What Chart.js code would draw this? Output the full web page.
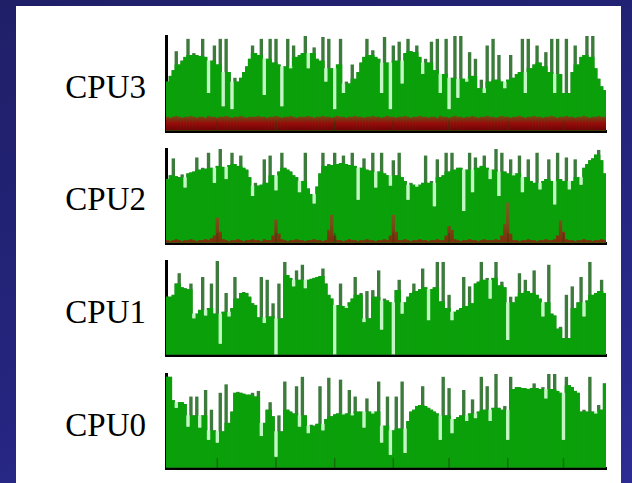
<!DOCTYPE html>
<html><head><meta charset="utf-8">
<script src="https://cdn.jsdelivr.net/npm/chart.js@4.4.1/dist/chart.umd.min.js"></script>
<style>
html,body{margin:0;padding:0;}
body{width:632px;height:483px;overflow:hidden;position:relative;background:linear-gradient(160deg,#1f1f68 0%,#24247c 50%,#2c2c94 100%);}
#panel{position:absolute;left:16px;top:6px;width:605px;height:477px;background:#fff;}
.lbl{position:absolute;left:0;width:146px;text-align:right;font-family:"Liberation Serif",serif;font-size:33px;line-height:34px;height:34px;color:#000;}
canvas{position:absolute;}
</style></head>
<body>
<div id="panel"></div>
<div class="lbl" style="top:70px">CPU3</div>
<div class="lbl" style="top:182px">CPU2</div>
<div class="lbl" style="top:295px">CPU1</div>
<div class="lbl" style="top:408px">CPU0</div>
<canvas id="c3" width="454" height="102" style="left:158px;top:33px"></canvas>
<canvas id="c2" width="454" height="101" style="left:158px;top:146px"></canvas>
<canvas id="c1" width="454" height="101" style="left:158px;top:258px"></canvas>
<canvas id="c0" width="454" height="101" style="left:158px;top:371px"></canvas>
<script>
// ---- data (percent CPU per sample) ----
const tickIdx = [17, 37, 57, 77, 96, 116, 135];

const cpu3Total = [52,58,64,84,70,74,78,97,80,82, 80,79,97,78,40,74,90,70,97,26,
 97,62,23,56,52,56,62,68,76,90, 82,80,97,38,76,97,72,97,70,26,
 68,97,66,90,78,80,82,100,66,82, 88,76,74,99,52,97,66,23,70,97,
 40,52,50,70,55,62,72,78,97,80, 85,78,76,40,99,72,23,90,74,94,
 50,82,97,84,83,90,78,60,76,72, 94,64,97,40,60,97,23,56,100,35,
 100,55,52,83,58,76,45,54,40,90, 52,97,54,80,52,45,54,80,56,60,
 62,97,40,97,66,70,90,72,68,83, 62,97,40,97,60,40,97,40,62,90,
 70,78,80,100,78,100,66,55,47,43];
const cpu3Kernel = [15,14,15,16,15,14,15,15,16,15, 14,15,15,14,16,15,15,14,15,15,
 16,15,14,15,15,16,15,14,15,15, 15,16,15,15,14,15,15,16,15,14,
 15,15,16,15,14,15,15,15,16,15, 14,15,15,16,15,15,14,15,16,15,
 15,14,15,15,16,15,15,14,15,15, 16,15,15,14,15,16,15,15,14,15,
 15,16,15,14,15,15,16,15,15,14, 15,15,14,16,15,15,14,15,16,15,
 15,14,15,15,16,15,14,15,15,16, 15,15,14,15,16,15,15,14,15,15,
 16,15,14,15,15,16,15,15,14,15, 15,16,15,14,15,15,16,15,15,14,
 15,15,16,15,14,15,15,16,15,15];

const cpu2Total = [68,72,90,71,70,73,59,74,75,76, 91,78,80,79,96,80,64,82,100,81,
 68,83,96,84,82,93,80,78,70,50, 64,61,62,89,64,93,72,56,76,96,
 80,78,76,72,70,54,66,96,58,52, 42,60,74,96,82,84,83,96,84,85,
 93,84,83,96,82,46,80,90,78,77, 96,59,76,96,74,72,61,88,72,96,
 70,66,46,64,62,60,62,64,93,64, 66,39,89,70,72,96,76,96,78,80,
 80,34,78,96,54,91,80,82,93,80, 68,78,100,50,96,76,74,89,72,74,
 93,54,70,89,66,64,96,57,66,68, 89,66,41,96,68,66,91,57,66,89,
 70,62,80,84,88,90,94,99,88,74];
const cpu2Kernel = [3,2,3,4,3,2,3,3,4,3, 2,3,3,4,3,5,8,27,12,4,
 3,2,3,3,4,3,2,3,3,4, 3,3,2,4,3,3,8,25,10,4,
 3,2,3,3,4,3,3,2,3,3, 4,3,3,2,3,14,30,8,3,3,
 2,3,4,3,3,2,3,3,4,3, 3,2,3,3,4,3,8,30,12,3,
 3,4,3,2,3,3,4,3,3,2, 3,3,4,3,3,8,18,14,4,3,
 2,3,3,4,3,3,2,3,4,3, 3,3,4,3,8,20,43,10,3,3,
 2,3,3,4,3,3,2,3,3,4, 3,3,4,8,24,12,4,3,3,2,
 3,3,4,3,3,2,3,3,4,3];

const cpu1Total = [62,62,64,76,87,72,71,70,76,39, 44,48,83,42,50,76,44,100,12,46,
 66,41,50,83,60,66,67,66,62,55, 53,40,83,34,80,41,55,0,76,39,
 99,85,82,73,90,80,96,71,80,81, 82,83,84,92,76,64,60,0,53,76,
 52,50,56,60,83,64,66,35,68,39, 69,62,90,27,60,58,56,0,69,80,
 44,56,62,66,76,68,70,92,72,37, 70,72,99,57,99,50,64,37,46,48,
 50,83,52,73,55,76,78,99,80,82, 60,82,99,74,78,72,16,62,56,62,
 87,66,80,68,66,90,64,60,41,56, 96,44,42,28,30,18,64,18,73,50,
 56,83,41,58,99,64,66,68,80,66];

const cpu0Total = [97,97,72,64,70,70,68,44,76,56, 76,43,56,83,30,62,40,27,80,39,
 89,48,60,80,81,80,79,78,78,80, 76,82,34,48,62,70,55,12,56,39,
 92,62,60,58,87,44,97,56,37,46, 45,47,87,40,52,96,55,57,58,94,
 57,58,83,56,76,60,60,43,74,60, 58,60,92,27,45,76,14,40,76,42,
 92,16,50,60,62,66,67,87,66,64, 62,60,58,30,97,56,85,37,52,54,
 56,83,50,58,73,53,60,97,62,87, 50,64,100,64,62,66,30,97,84,86,
 86,85,85,84,85,90,85,84,86,74, 100,84,100,82,80,30,97,88,86,82,
 80,60,62,60,97,60,58,67,62,90];

const labels = cpu3Total.map((_, i) => String(i));

// ---- styles ----
const GREEN = '#0aa00a', SPIKE = '#3c7b3c', DIP = '#c2f6c2';

const tickMarks = {
  id: 'tickMarks',
  afterDatasetsDraw(chart, args, opts) {
    if (!opts.show) return;
    const xs = chart.scales.x, a = chart.chartArea, ctx = chart.ctx;
    ctx.save();
    ctx.strokeStyle = opts.color; ctx.lineWidth = 1.5;
    tickIdx.forEach(i => {
      const px = xs.getPixelForValue(i);
      ctx.beginPath(); ctx.moveTo(px, a.bottom); ctx.lineTo(px, a.bottom - opts.len); ctx.stroke();
    });
    ctx.restore();
  }
};

function redGradient(frac, cBot, cMid, cTop) {
  return (c) => {
    const ch = c.chart, a = ch.chartArea;
    if (!a) return cMid;
    const g = ch.ctx.createLinearGradient(0, a.bottom, 0, a.bottom - frac * (a.bottom - a.top));
    g.addColorStop(0, cBot); g.addColorStop(0.5, cMid); g.addColorStop(1, cTop);
    return g;
  };
}

function makeChart(id, total, kernel, kernelColor, showTicks) {
  const body = total.map((y, i) => {
    const p = i > 0 ? total[i - 1] : y, n = i < total.length - 1 ? total[i + 1] : y;
    return Math.min(y, Math.max(p, n));
  });
  const dip = total.map((y, i) => {
    const p = i > 0 ? body[i - 1] : y, n = i < total.length - 1 ? body[i + 1] : y;
    const m = Math.min(p, n);
    return m > y ? [y, m] : null;
  });
  const common = { barPercentage: 1.15, categoryPercentage: 1, borderWidth: 0 };
  const datasets = [];
  if (kernel) datasets.push(Object.assign({ label: 'kernel', data: kernel, backgroundColor: kernelColor }, common));
  datasets.push(Object.assign({ label: 'dip', data: dip, backgroundColor: DIP }, common));
  datasets.push(Object.assign({ label: 'total', data: body, backgroundColor: GREEN }, common));
  datasets.push(Object.assign({ label: 'peak', data: total, backgroundColor: SPIKE }, common));
  new Chart(document.getElementById(id), {
    type: 'bar',
    data: { labels, datasets },
    plugins: [tickMarks],
    options: {
      responsive: false, animation: false, devicePixelRatio: 1,
      layout: { padding: { left: 8, right: 6, top: 3, bottom: 4 } },
      plugins: { legend: { display: false }, tooltip: { enabled: false },
        tickMarks: { show: showTicks, color: 'rgba(30,70,10,0.55)', len: 10 } },
      scales: {
        x: { stacked: true, z: 1, ticks: { display: false },
             grid: { display: true, drawOnChartArea: false, drawTicks: false },
             border: { display: true, color: '#000', width: 3 } },
        y: { stacked: false, min: 0, max: 100, z: 1, ticks: { display: false },
             grid: { display: true, drawOnChartArea: false, drawTicks: false },
             border: { display: true, color: '#000', width: 3 } }
      }
    }
  });
}

makeChart('c3', cpu3Total, cpu3Kernel, redGradient(0.16, '#6a0303', '#960b0b', '#6a5212'), true);
makeChart('c2', cpu2Total, cpu2Kernel, redGradient(0.45, '#7e2a0a', '#765018', '#6a6a1c'), true);
makeChart('c1', cpu1Total, null, null, false);
makeChart('c0', cpu0Total, null, null, true);
</script>
</body></html>
